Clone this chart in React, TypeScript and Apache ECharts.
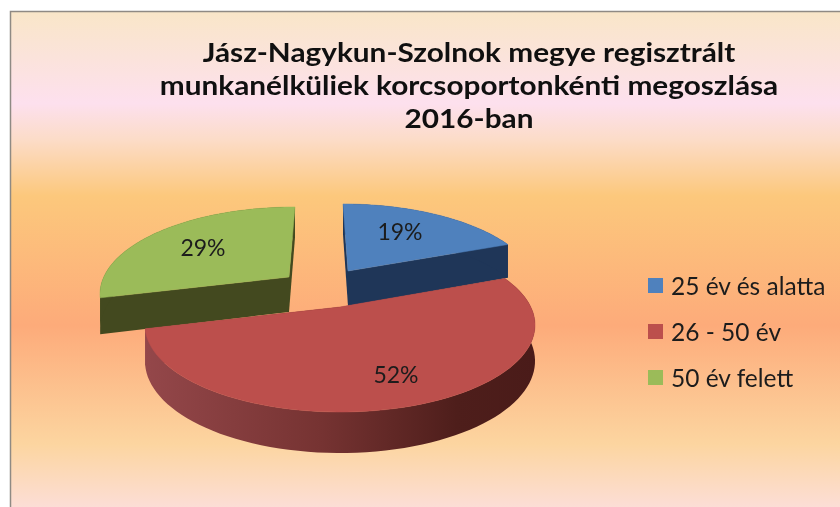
import React, { useEffect, useRef } from "react";
import * as echarts from "echarts";

const categories = ["25 év és alatta", "26 - 50 év", "50 év felett"];
const shares = [19, 52, 29];
const titleLines = [
  "Jász-Nagykun-Szolnok megye regisztrált",
  "munkanélküliek korcsoportonkénti megoszlása",
  "2016-ban",
];

const W = 840;
const H = 507;
const topColors = ["#4f81bd", "#bc4f4c", "#9bbb59"];
const wallColors: any[] = [
  "#1f3658",
  new echarts.graphic.LinearGradient(0, 0, 1, 0, [
    { offset: 0, color: "#94474a" },
    { offset: 0.45, color: "#763332" },
    { offset: 0.8, color: "#4e1e1b" },
    { offset: 1, color: "#4a1b19" },
  ]),
  "#43491f",
];
// screen offset of each exploded slice, its apex correction, paint order and label position
const shifts = [[3, -34], [0, 0], [-45, -31]];
const apexNudge = [[5, -2], [0, 0], [-6, 1]];
const order = [2, 3, 1];
const labelAt = [[400, 231], [396, 374], [203, 247]];

const CX = 340, CY = 307, A = 190.8, B = 83.3, K = 0.2069, D = 35, K2 = 0.146;

function project(theta: number, r: number, s: number[]) {
  const u = r * Math.sin(theta);
  const v = -r * Math.cos(theta);
  const den = 1 - K * v;
  return [CX + s[0] + (A * u) / den, CY + s[1] + (B * v) / den, v];
}
function drop(p: number[]) {
  return [p[0], p[1] + D / (1 - K2 * p[2])];
}

function sliceItem(index: number) {
  const total = shares.reduce((a, b) => a + b, 0);
  const before = shares.slice(0, index).reduce((a, b) => a + b, 0);
  const a0 = (before / total) * Math.PI * 2;
  const a1 = ((before + shares[index]) / total) * Math.PI * 2;
  const s = shifts[index];
  const steps = 80;
  const rim: number[][] = [];
  for (let i = 0; i <= steps; i++) {
    rim.push(project(a0 + ((a1 - a0) * i) / steps, 1, s));
  }
  const apex0 = project(0, 0, s);
  const apex = [apex0[0] + apexNudge[index][0], apex0[1] + apexNudge[index][1], apex0[2]];
  const base = order[index] * 10;
  const poly = (pts: number[][], fill: any, z2: number) => ({
    type: "polygon",
    z2,
    shape: { points: pts.map((p) => [p[0], p[1]]) },
    style: { fill, stroke: fill === topColors[index] ? fill : undefined, lineWidth: 0.5 },
  });
  const wall = wallColors[index];
  const outer = [...rim, ...rim.map(drop).reverse()];
  const first = rim[0];
  const last = rim[rim.length - 1];
  return {
    type: "group",
    children: [
      poly([apex, first, drop(first), drop(apex)], wall, base),
      poly([apex, last, drop(last), drop(apex)], wall, base),
      poly(outer, wall, base + 1),
      poly([apex, ...rim], topColors[index], base + 2),
      {
        type: "text",
        z2: 100,
        x: labelAt[index][0],
        y: labelAt[index][1],
        style: {
          text: `${shares[index]}%`,
          fill: "#1c1c1c",
          font: '23px Lato, "Noto Sans", sans-serif',
          align: "center",
          verticalAlign: "middle",
        },
      },
    ],
  };
}

export default function App() {
  const ref = useRef<HTMLDivElement>(null);
  useEffect(() => {
    document.body.style.margin = "0";
    const chart = echarts.init(ref.current!, null, { renderer: "svg" });
    chart.setOption({
      animation: false,
      backgroundColor: "#ffffff",
      graphic: [
        {
          type: "rect",
          z: -10,
          silent: true,
          shape: { x: 10.5, y: 11.5, width: W + 5, height: H + 5 },
          style: {
            stroke: "#8f8a84",
            lineWidth: 1.5,
            fill: new echarts.graphic.LinearGradient(0, 0, 0, 1, [
              { offset: 0, color: "#f9e6c8" },
              { offset: 0.18, color: "#fde0ee" },
              { offset: 0.25, color: "#fcdcc8" },
              { offset: 0.36, color: "#fcc87c" },
              { offset: 0.613, color: "#fdab7a" },
              { offset: 0.845, color: "#fcd5a0" },
              { offset: 1, color: "#fce0e4" },
            ]),
          },
        },
        ...titleLines.map((line, i) => ({
          type: "text",
          silent: true,
          x: 469,
          y: 52 + i * 33,
          scaleX: 1.145,
          style: {
            text: line,
            fill: "#101010",
            font: 'bold 26px Lato, "Noto Sans", sans-serif',
            align: "center",
            verticalAlign: "middle",
          },
        })),
      ],
      legend: {
        orient: "vertical",
        left: 648,
        top: 273,
        padding: 0,
        itemWidth: 15,
        itemHeight: 15,
        itemGap: 21,
        icon: "rect",
        data: categories,
        selectedMode: false,
        textStyle: {
          color: "#1c1c1c",
          fontSize: 24.5,
          fontFamily: 'Lato, "Noto Sans", sans-serif',
          lineHeight: 21,
          padding: [0, 0, 0, 3],
        },
      },
      series: categories.map((name, i) => ({
        type: "custom",
        name,
        coordinateSystem: "none",
        color: topColors[i],
        itemStyle: { color: topColors[i] },
        data: [shares[i]],
        silent: true,
        renderItem: () => sliceItem(i),
      })),
    });
    return () => chart.dispose();
  }, []);
  return <div ref={ref} style={{ width: W, height: H, filter: "blur(0.5px)" }} />;
}
